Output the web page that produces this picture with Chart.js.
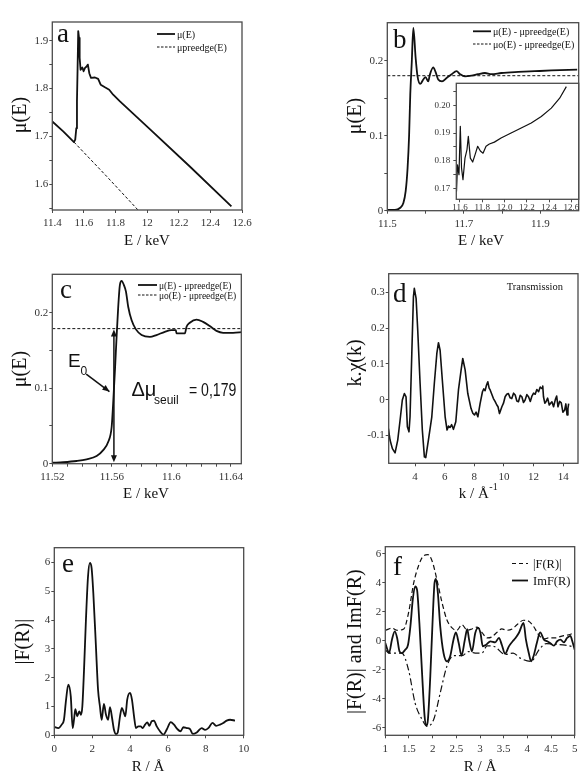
<!DOCTYPE html>
<html>
<head>
<meta charset="utf-8">
<script src="https://cdn.jsdelivr.net/npm/chart.js@4.4.1/dist/chart.umd.min.js"></script>
<style>
  html, body { margin: 0; padding: 0; background: #fff; }
  #wrap { position: relative; width: 586px; height: 775px; }
  canvas { position: absolute; left: 0; top: 0; }
</style>
</head>
<body>
<div id="wrap">
  <canvas id="pa" width="586" height="775"></canvas>
  <canvas id="pb" width="586" height="775"></canvas>
  <canvas id="pbIn" width="586" height="775"></canvas>
  <canvas id="pc" width="586" height="775"></canvas>
  <canvas id="pd" width="586" height="775"></canvas>
  <canvas id="pe" width="586" height="775"></canvas>
  <canvas id="pf" width="586" height="775"></canvas>
</div>
<script>
// ---- data ----

// (a) raw absorption mu(E) and pre-edge line
const aE = [11.4, 11.469, 11.537, 11.545, 11.552, 11.556, 11.56, 11.564, 11.569, 11.573,
            11.579, 11.59, 11.598, 11.607, 11.617, 11.625, 11.634, 11.645, 11.67, 11.69,
            11.706, 11.733, 11.76, 11.785, 11.828, 12.017, 12.27, 12.533];
const aMu = [1.731, 1.7105, 1.688, 1.693, 1.717, 1.773, 1.843, 1.92, 1.906, 1.864,
             1.839, 1.844, 1.836, 1.843, 1.846, 1.85, 1.832, 1.822, 1.823, 1.82,
             1.808, 1.8025, 1.7975, 1.787, 1.773, 1.715, 1.637, 1.5535];
const aPreE = [11.537, 11.744, 11.945];
const aPreMu = [1.688, 1.6163, 1.545];

// (b) mu(E) - pre-edge, and mu0 level
const bE = [11.5, 11.52, 11.533, 11.542, 11.548, 11.553, 11.557, 11.56, 11.564, 11.568,
            11.574, 11.579, 11.586, 11.594, 11.6, 11.607, 11.611, 11.62, 11.626, 11.633,
            11.643, 11.655, 11.668, 11.681, 11.69, 11.703, 11.72, 11.737, 11.755, 11.772,
            11.798, 11.842, 11.885, 11.929, 11.996];
const bMu = [0.001, 0.001, 0.0036, 0.0103, 0.026, 0.057, 0.101, 0.155, 0.199, 0.2436,
             0.204, 0.179, 0.169, 0.175, 0.178, 0.1725, 0.181, 0.191, 0.185, 0.175,
             0.1725, 0.177, 0.182, 0.186, 0.182, 0.179, 0.18, 0.182, 0.1836, 0.182,
             0.1836, 0.185, 0.186, 0.187, 0.188];
const bZeroE = [11.5, 12.0];
const bZeroMu = [0.18, 0.18];

// (b) inset, wide energy range
const inE = [11.567, 11.569, 11.578, 11.591, 11.603, 11.614, 11.627, 11.645, 11.663, 11.675,
             11.693, 11.714, 11.735, 11.759, 11.783, 11.807, 11.834, 11.864, 11.909, 11.969,
             12.059, 12.15, 12.24, 12.33, 12.42, 12.495, 12.555];
const inMu = [0.1773, 0.1689, 0.1785, 0.1749, 0.1924, 0.1773, 0.1731, 0.1809, 0.184, 0.1888,
              0.1809, 0.1795, 0.1821, 0.1852, 0.1835, 0.1827, 0.1852, 0.186, 0.1867, 0.1882,
              0.19, 0.1918, 0.1936, 0.196, 0.199, 0.2026, 0.2068];

// (c) zoom on the edge
const cE = [11.52, 11.5274, 11.5364, 11.5431, 11.5498, 11.5542, 11.5576, 11.5599, 11.5609, 11.5621,
            11.5632, 11.5643, 11.5654, 11.5666, 11.5681, 11.5695, 11.571, 11.5733, 11.5762, 11.58,
            11.5856, 11.59, 11.5956, 11.6001, 11.603, 11.6035, 11.6091, 11.6102, 11.6124, 11.6169,
            11.6213, 11.6258, 11.6303, 11.6348, 11.6415, 11.6478];
const cMu = [0.0013, 0.002, 0.0036, 0.0058, 0.0102, 0.018, 0.029, 0.049, 0.08, 0.124,
             0.168, 0.208, 0.2367, 0.2424, 0.2367, 0.228, 0.208, 0.19, 0.178, 0.1705,
             0.168, 0.1705, 0.1748, 0.177, 0.177, 0.1727, 0.1727, 0.1815, 0.1868, 0.191,
             0.188, 0.1824, 0.176, 0.1735, 0.1735, 0.1744];
const cZeroE = [11.52, 11.648];
const cZeroMu = [0.179, 0.179];

// (d) k.chi(k)
const dK = [2.2, 2.31, 2.47, 2.65, 2.83, 2.99, 3.14, 3.28, 3.39, 3.48,
            3.59, 3.66, 3.78, 3.89, 3.95, 4.07, 4.18, 4.34, 4.49, 4.63,
            4.72, 4.9, 5.13, 5.3, 5.47, 5.58, 5.69, 5.84, 6.03, 6.16,
            6.26, 6.36, 6.47, 6.59, 6.75, 6.93, 7.11, 7.22, 7.38, 7.56,
            7.78, 7.9, 8.01, 8.12, 8.24, 8.39, 8.55, 8.64, 8.73, 8.82,
            8.91, 9.0, 9.07, 9.18, 9.29, 9.4, 9.52, 9.6, 9.7, 9.86,
            9.97, 10.08, 10.19, 10.3, 10.42, 10.53, 10.65, 10.76, 10.87, 10.98,
            11.1, 11.21, 11.32, 11.43, 11.55, 11.66, 11.78, 11.89, 12.0, 12.11,
            12.22, 12.34, 12.45, 12.57, 12.62, 12.67, 12.76, 12.84, 12.95, 13.06,
            13.15, 13.24, 13.35, 13.47, 13.56, 13.65, 13.76, 13.87, 13.98, 14.1,
            14.18, 14.26, 14.32, 14.37];
const dChi = [-0.081, -0.113, -0.137, -0.149, -0.113, -0.057, -0.001, 0.017, 0.008, -0.076,
              -0.09, -0.048, 0.129, 0.288, 0.311, 0.283, 0.194, 0.045, -0.085, -0.16,
              -0.162, -0.113, -0.048, 0.045, 0.129, 0.159, 0.138, 0.055, -0.048, -0.085,
              -0.074, -0.078, -0.07, -0.083, -0.062, 0.027, 0.083, 0.115, 0.083, 0.017,
              -0.025, -0.038, -0.043, -0.035, -0.048, -0.011, 0.022, 0.03, 0.025, 0.04,
              0.05, 0.032, 0.027, 0.015, 0.003, -0.005, -0.015, -0.02, -0.039, -0.02,
              -0.01, 0.008, 0.015, 0.017, 0.005, 0.003, 0.018, 0.013, -0.004, -0.006,
              0.012, 0.008, -0.008, -0.001, 0.014, 0.008, -0.005, 0.01, 0.018, 0.015,
              0.028, 0.022, 0.035, 0.031, 0.038, 0.008, -0.01, -0.006, 0.004, -0.015,
              -0.01, -0.006, -0.02, 0.0, 0.01, -0.02, -0.005, -0.009, -0.035, -0.029,
              -0.012, -0.043, -0.025, -0.011];

// (e) |F(R)|
const eR = [0, 0.21, 0.39, 0.51, 0.62, 0.74, 0.87, 0.97, 1.04, 1.11,
            1.21, 1.32, 1.41, 1.48, 1.57, 1.67, 1.78, 1.88, 1.97, 2.06,
            2.19, 2.31, 2.41, 2.5, 2.62, 2.73, 2.84, 2.94, 3.05, 3.15,
            3.26, 3.35, 3.47, 3.57, 3.68, 3.75, 3.85, 4.0, 4.1, 4.21,
            4.31, 4.44, 4.56, 4.67, 4.79, 4.91, 5.02, 5.14, 5.26, 5.41,
            5.58, 5.76, 5.93, 6.15, 6.32, 6.49, 6.67, 6.81, 6.99, 7.16,
            7.31, 7.52, 7.78, 7.96, 8.13, 8.36, 8.54, 8.75, 8.92, 9.1,
            9.28, 9.54];
const eF = [0.29, 0.25, 0.37, 0.54, 1.23, 1.76, 1.35, 0.25, 0.54, 0.91,
            0.66, 0.83, 0.71, 1.0, 2.28, 4.0, 5.51, 5.98, 5.8, 4.94,
            3.2, 1.58, 1.0, 0.54, 1.09, 0.71, 0.54, 0.98, 0.6, 0.19,
            0.04, 0.1, 0.66, 0.95, 0.77, 0.66, 1.24, 1.47, 1.24, 0.66,
            0.25, 0.31, 0.31, 0.25, 0.37, 0.45, 0.33, 0.49, 0.51, 0.31,
            0.14, 0.02, 0.19, 0.46, 0.37, 0.22, 0.14, 0.28, 0.25, 0.22,
            0.05, 0.1, 0.25, 0.19, 0.25, 0.43, 0.33, 0.37, 0.43, 0.51,
            0.54, 0.51];

// (f) |F(R)| envelope (upper dashed, lower dash-dot) and ImF(R)
const fR = [1.01, 1.14, 1.25, 1.39, 1.49, 1.6, 1.71, 1.81, 1.9, 1.99,
            2.09, 2.2, 2.3, 2.41, 2.51, 2.62, 2.73, 2.83, 2.94, 3.04,
            3.15, 3.25, 3.36, 3.46, 3.57, 3.68, 3.78, 3.92, 4.03, 4.13,
            4.24, 4.35, 4.45, 4.59, 4.73, 4.87, 4.98];
const fAbs = [0.72, 0.87, 0.72, 0.81, 1.91, 3.98, 5.24, 5.86, 5.93, 5.48,
              4.21, 2.6, 1.45, 0.88, 0.72, 1.1, 0.72, 0.81, 0.94, 0.58,
              0.19, 0.26, 0.58, 0.81, 0.72, 0.81, 1.1, 1.41, 1.34, 0.99,
              0.41, 0.12, 0.19, 0.19, 0.32, 0.41, 0.53];
const fRLow = [1.0, 1.08, 1.35, 1.49, 1.63, 1.78, 1.88, 2.02, 2.16, 2.3,
               2.44, 2.62, 2.76, 2.9, 3.04, 3.15, 3.3, 3.53, 3.7, 3.85,
               4.08, 4.25, 4.4, 4.6, 4.8, 5.0];
const fLow = [-0.62, -0.85, -0.85, -2.0, -4.3, -5.45, -5.9, -5.45, -3.6, -1.77,
              -1.03, -1.03, -0.75, -0.85, -0.85, -0.35, -0.4, -0.95, -0.85, -1.2,
              -1.42, -0.6, -0.2, -0.25, -0.3, -0.45];
const fImR = [1.0, 1.04, 1.08, 1.14, 1.2, 1.25, 1.3, 1.35, 1.42, 1.48,
              1.53, 1.58, 1.63, 1.67, 1.72, 1.78, 1.83, 1.87, 1.9, 1.95,
              2.0, 2.04, 2.07, 2.11, 2.16, 2.23, 2.3, 2.37, 2.44, 2.49,
              2.55, 2.61, 2.68, 2.73, 2.77, 2.83, 2.9, 2.96, 3.01, 3.06,
              3.13, 3.22, 3.32, 3.4, 3.46, 3.53, 3.61, 3.69, 3.75, 3.82,
              3.92, 3.97, 4.03, 4.08, 4.13, 4.2, 4.27, 4.35, 4.42, 4.48,
              4.56, 4.63, 4.7, 4.77, 4.84, 4.91, 4.94, 5.0];
const fIm = [-0.16, -0.57, -0.85, 0.07, 0.65, 0.19, -0.73, -0.85, -0.62, -0.28,
             0.99, 2.83, 3.75, 3.52, 1.22, -2.46, -5.21, -5.86, -5.45, -2.46,
             1.45, 3.98, 4.26, 3.29, 0.99, -0.85, -1.42, -1.07, 0.07, 0.58,
             -0.16, -1.03, 0.07, 0.79, 0.07, -0.73, 0.53, 0.88, 0.53, -0.39,
             -0.28, -0.04, -0.11, 0.19, -0.28, -0.9, -0.39, -0.04, 0.19, 0.53,
             1.22, 0.07, -0.85, -1.42, -1.07, -0.16, 0.58, 0.07, -0.04, -0.16,
             -0.34, -0.04, 0.07, -0.11, 0.19, 0.34, 0.07, -0.62];

// tick positions (major get labels, minor are bare marks)
const aXTicks = [11.4, 11.6, 11.8, 12, 12.2, 12.4, 12.6];
const aYTicks = [1.6, 1.7, 1.8, 1.9];
const aYMinor = [1.55, 1.65, 1.75, 1.85];
const bXTicks = [11.5, 11.7, 11.9];
const bXMinor = [11.6, 11.8];
const bYTicks = [0, 0.1, 0.2];
const bYMinor = [0.05, 0.15];
const inXTicks = [11.6, 11.8, 12.0, 12.2, 12.4, 12.6];
const inYTicks = [0.17, 0.18, 0.19, 0.20];
const inYMinor = [0.175, 0.185, 0.195, 0.205];
const cXTicks = [11.52, 11.56, 11.6, 11.64];
const cXMinor = [11.53, 11.54, 11.55, 11.57, 11.58, 11.59, 11.61, 11.62, 11.63];
const cYTicks = [0, 0.1, 0.2];
const cYMinor = [0.05, 0.15];
const dXTicks = [4, 6, 8, 10, 12, 14];
const dYTicks = [-0.1, 0, 0.1, 0.2, 0.3];
const eXTicks = [0, 2, 4, 6, 8, 10];
const eYTicks = [0, 1, 2, 3, 4, 5, 6];
const fXTicks = [1, 1.5, 2, 2.5, 3, 3.5, 4, 4.5, 5];
const fYTicks = [-6, -4, -2, 0, 2, 4, 6];

// ---- drawing helpers ----
const PW = 586, PH = 775;
const SERIF = '"Liberation Serif", "Times New Roman", Times, serif';
const SANS = '"Liberation Sans", Arial, Helvetica, sans-serif';
const INK = '#111';

function pts(xs, ys) { return xs.map((x, i) => ({ x: x, y: ys[i] })); }

function series(xs, ys, extra) {
  return Object.assign({
    data: pts(xs, ys), showLine: true, borderColor: INK, borderWidth: 1.8,
    pointRadius: 0, fill: false, tension: 0, borderJoinStyle: 'round'
  }, extra || {});
}

function axis(min, max, major, minor, fmt, size) {
  return {
    type: 'linear', min: min, max: max, bounds: 'data',
    afterBuildTicks: s => { s.ticks = major.concat(minor || []).map(v => ({ value: v })); },
    ticks: {
      autoSkip: false, maxRotation: 0, minRotation: 0, color: '#333',
      font: { family: SERIF, size: size || 11 },
      callback: v => major.indexOf(v) < 0 ? '' : (fmt ? fmt(v) : String(v))
    },
    grid: { drawOnChartArea: false, drawTicks: true, tickLength: 3, color: '#4a4a4a', lineWidth: 1 },
    border: { display: false }
  };
}

function text(g, s, x, y, size, o) {
  o = o || {};
  g.save();
  g.font = size + 'px ' + (o.family || SERIF);
  g.fillStyle = o.color || INK;
  g.textAlign = o.align || 'left';
  g.textBaseline = o.base || 'alphabetic';
  g.translate(x, y);
  if (o.rot) g.rotate(-Math.PI / 2);
  if (o.sx) g.scale(o.sx, 1);
  g.fillText(s, 0, 0);
  g.restore();
}

function seg(g, x1, y1, x2, y2, w, dash) {
  g.save();
  g.strokeStyle = INK; g.lineWidth = w || 1;
  g.setLineDash(dash || []);
  g.beginPath(); g.moveTo(x1, y1); g.lineTo(x2, y2); g.stroke();
  g.restore();
}

function head(g, x, y, ang) {
  g.save();
  g.fillStyle = INK;
  g.translate(x, y); g.rotate(ang);
  g.beginPath(); g.moveTo(0, 0); g.lineTo(-7, -3); g.lineTo(-7, 3); g.closePath(); g.fill();
  g.restore();
}

const ROT = { rot: true, align: 'center', base: 'middle' };

// box = plot area [left, top, right, bottom] in page pixels
function makeChart(id, box, xs, ys, datasets, decorate, whiteBg) {
  xs.afterFit = s => { s.height = 30; };
  ys.afterFit = s => { s.width = 40; };
  if (xs.ticks.padding === undefined) xs.ticks.padding = 4;
  if (ys.ticks.padding === undefined) ys.ticks.padding = 1;
  return new Chart(document.getElementById(id), {
    type: 'scatter',
    data: { datasets: datasets },
    options: {
      responsive: false, animation: false, devicePixelRatio: 1,
      layout: { padding: { left: box[0] - 40, top: box[1], right: PW - box[2], bottom: PH - box[3] - 30 } },
      plugins: { legend: { display: false }, tooltip: { enabled: false } },
      scales: { x: xs, y: ys }
    },
    plugins: [{
      id: 'decor',
      beforeDraw(c) {
        if (!whiteBg) return;
        const a = c.chartArea;
        c.ctx.save(); c.ctx.fillStyle = '#fff';
        c.ctx.fillRect(a.left, a.top, a.right - a.left, a.bottom - a.top);
        c.ctx.restore();
      },
      afterDraw(c) {
        const a = c.chartArea, g = c.ctx;
        g.save(); g.strokeStyle = '#4a4a4a'; g.lineWidth = 1.3;
        g.strokeRect(a.left, a.top, a.right - a.left, a.bottom - a.top);
        g.restore();
        if (decorate) decorate(g, c);
      }
    }]
  });
}

// ==============================
// (a) mu(E)
// ==============================
makeChart('pa', [52.3, 22, 242, 210],
  axis(11.4, 12.6, aXTicks),
  axis(1.546, 1.939, aYTicks, aYMinor),
  [series(aE, aMu), series(aPreE, aPreMu, { borderWidth: 1, borderDash: [3, 2] })],
  g => {
    text(g, 'a', 57, 42, 27);
    seg(g, 157, 34, 175, 34, 1.8);
    text(g, 'μ(E)', 177, 37.5, 10);
    seg(g, 157, 47, 175, 47, 1, [2.5, 1.5]);
    text(g, 'μpreedge(E)', 177, 50.5, 10);
    text(g, 'μ(E)', 21, 115, 20, ROT);
    text(g, 'E / keV', 147, 245, 15, { align: 'center' });
  });

// ==============================
// (b) mu(E) - pre-edge
// ==============================
makeChart('pb', [387.3, 22.7, 578.7, 210.7],
  axis(11.5, 12.0, bXTicks, bXMinor),
  axis(0, 0.2507, bYTicks, bYMinor),
  [series(bE, bMu, { cubicInterpolationMode: 'monotone' }),
   series(bZeroE, bZeroMu, { borderWidth: 1, borderDash: [3, 2] })],
  g => {
    text(g, 'b', 393, 48, 27);
    seg(g, 473, 31.3, 491, 31.3, 1.8);
    text(g, 'μ(E) - μpreedge(E)', 493, 34.8, 10);
    seg(g, 473, 44, 491, 44, 1, [2.5, 1.5]);
    text(g, 'μo(E) - μpreedge(E)', 493, 47.5, 10);
    text(g, 'μ(E)', 355.5, 116, 20, ROT);
    text(g, 'E / keV', 481, 245, 15, { align: 'center' });
  });

// inset of (b)
const inX = axis(11.567, 12.666, inXTicks, null, v => v.toFixed(1), 9);
const inY = axis(0.166, 0.208, inYTicks, inYMinor, v => v.toFixed(2), 9);
inX.ticks.padding = 0;
inY.ticks.padding = 3;
makeChart('pbIn', [456.3, 83.3, 578.7, 199.3], inX, inY,
  [series(inE, inMu, { borderWidth: 1.2 })], null, true);

// ==============================
// (c) edge detail
// ==============================
makeChart('pc', [52.3, 274.3, 241.3, 463.7],
  axis(11.52, 11.647, cXTicks, cXMinor),
  axis(0, 0.251, cYTicks, cYMinor),
  [series(cE, cMu, { cubicInterpolationMode: 'monotone' }),
   series(cZeroE, cZeroMu, { borderWidth: 1, borderDash: [3, 2] })],
  (g, c) => {
    const X = v => c.scales.x.getPixelForValue(v);
    const Y = v => c.scales.y.getPixelForValue(v);
    text(g, 'c', 60, 298, 27);
    seg(g, 138, 285, 157, 285, 1.8);
    text(g, 'μ(E) - μpreedge(E)', 159, 288.5, 9.5);
    seg(g, 138, 295, 157, 295, 1, [2.5, 1.5]);
    text(g, 'μo(E) - μpreedge(E)', 159, 298.5, 9.5);
    // edge jump double arrow
    const ax = X(11.5614);
    seg(g, ax, Y(0.174), ax, Y(0.006), 1.5);
    head(g, ax, Y(0.178), -Math.PI / 2);
    head(g, ax, Y(0.002), Math.PI / 2);
    // E0 pointer
    const x1 = X(11.5428), y1 = Y(0.1188), x2 = X(11.5584), y2 = Y(0.0956);
    seg(g, x1, y1, x2, y2, 1.5);
    head(g, x2, y2, Math.atan2(y2 - y1, x2 - x1));
    text(g, 'E', 68, 367, 19, { family: SANS });
    text(g, '0', 80.5, 375, 12, { family: SANS });
    text(g, 'Δμ', 131.5, 396, 20, { family: SANS });
    text(g, 'seuil', 154, 403.5, 12, { family: SANS });
    text(g, '= 0,179', 189, 396, 19, { family: SANS, sx: 0.74 });
    text(g, 'μ(E)', 21, 369, 20, ROT);
    text(g, 'E / keV', 146, 498, 15, { align: 'center' });
  });

// ==============================
// (d) k.chi(k)
// ==============================
makeChart('pd', [388.7, 273.7, 578, 463.3],
  axis(2.22, 15.0, dXTicks),
  axis(-0.178, 0.352, dYTicks),
  [series(dK, dChi, { borderWidth: 1.6 })],
  g => {
    text(g, 'd', 393, 301.5, 27);
    text(g, 'Transmission', 563, 289.5, 10.5, { align: 'right' });
    text(g, 'k.χ(k)', 355.5, 363, 20, ROT);
    g.save();
    g.font = '15px ' + SERIF; const w1 = g.measureText('k / Å').width;
    g.font = '10px ' + SERIF; const w2 = g.measureText('-1').width;
    g.restore();
    const x0 = 478 - (w1 + w2) / 2;
    text(g, 'k / Å', x0, 498, 15);
    text(g, '-1', x0 + w1 + 0.5, 490, 10);
  });

// ==============================
// (e) |F(R)|
// ==============================
makeChart('pe', [54.3, 547.7, 243.7, 735.3],
  axis(0, 10, eXTicks),
  axis(0, 6.51, eYTicks),
  [series(eR, eF, { cubicInterpolationMode: 'monotone' })],
  g => {
    text(g, 'e', 62, 571.5, 27);
    text(g, '|F(R)|', 24, 641.7, 20, ROT);
    text(g, 'R / Å', 148, 771, 15, { align: 'center' });
  });

// ==============================
// (f) |F(R)| and ImF(R)
// ==============================
makeChart('pf', [385.3, 546.7, 574.7, 735.3],
  axis(1, 5, fXTicks),
  axis(-6.52, 6.48, fYTicks),
  [series(fImR, fIm, { cubicInterpolationMode: 'monotone' }),
   series(fR, fAbs, { borderWidth: 1.2, borderDash: [5, 3], cubicInterpolationMode: 'monotone' }),
   series(fRLow, fLow, { borderWidth: 1.2, borderDash: [7, 3, 2, 3], cubicInterpolationMode: 'monotone' })],
  g => {
    text(g, 'f', 393, 575, 27);
    seg(g, 512, 563.5, 528, 563.5, 1.2, [4, 3]);
    text(g, '|F(R)|', 533, 567.5, 12.5);
    seg(g, 512, 580.5, 528, 580.5, 1.8);
    text(g, 'ImF(R)', 533, 584.5, 12.5);
    text(g, '|F(R)| and ImF(R)', 355.5, 641.7, 20, ROT);
    text(g, 'R / Å', 480, 771, 15, { align: 'center' });
  });
</script>
</body>
</html>
